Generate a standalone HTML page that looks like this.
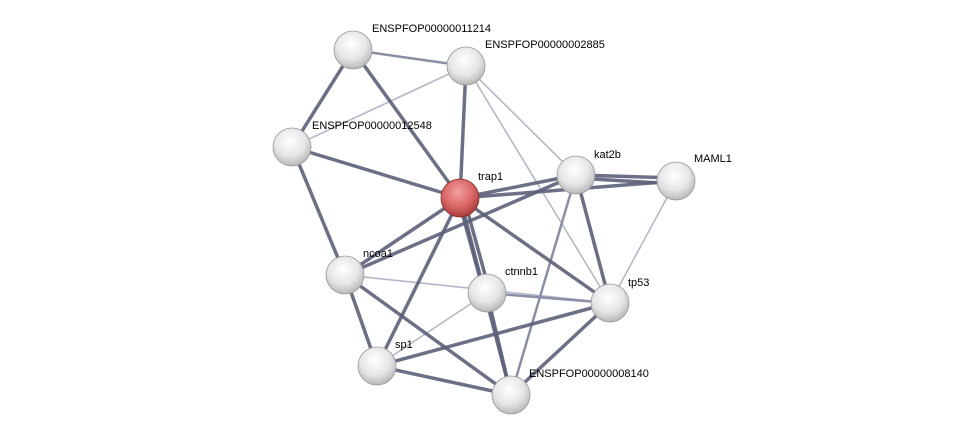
<!DOCTYPE html>
<html><head><meta charset="utf-8"><style>
html,body{margin:0;padding:0;background:#fff;width:976px;height:440px;overflow:hidden}
text{font-family:"Liberation Sans",sans-serif;font-size:11px;fill:#000}
</style></head><body>
<svg width="976" height="440" xmlns="http://www.w3.org/2000/svg">
<defs>
<radialGradient id="g" cx="45%" cy="35%" r="65%">
<stop offset="0" stop-color="#ffffff"/><stop offset="0.6" stop-color="#e6e6e6"/><stop offset="1" stop-color="#b8b8b8"/></radialGradient>
<radialGradient id="r" cx="45%" cy="35%" r="65%">
<stop offset="0" stop-color="#f2a0a0"/><stop offset="0.6" stop-color="#d96666"/><stop offset="1" stop-color="#a83a3a"/></radialGradient>
</defs>
<g stroke-linecap="round">
<!-- light edges -->
<g stroke="#b4b7c9" stroke-width="1.6">
<line x1="466" y1="66" x2="292" y2="147"/>
<line x1="466" y1="66" x2="610" y2="303"/>
<line x1="466" y1="66" x2="576" y2="175"/>
<line x1="676" y1="181" x2="610" y2="303"/>
<line x1="345" y1="275" x2="610" y2="303"/>
<line x1="487" y1="293" x2="377" y2="366"/>
</g>
<g stroke="#8a8ea6" stroke-width="2.5">
<line x1="353" y1="50" x2="466" y2="66"/>
<line x1="487" y1="293" x2="610" y2="303"/>
<line x1="576" y1="175" x2="511" y2="395"/>
</g>
<g stroke="#5c6179" stroke-width="3.5" stroke-opacity="0.9">
<line x1="353" y1="50" x2="292" y2="147"/>
<line x1="353" y1="50" x2="460" y2="198"/>
<line x1="466" y1="66" x2="460" y2="198"/>
<line x1="292" y1="147" x2="460" y2="198"/>
<line x1="292" y1="147" x2="345" y2="275"/>
<line x1="460" y1="198" x2="576" y2="175"/>
<line x1="460" y1="198" x2="676" y2="181"/>
<line x1="460" y1="198" x2="345" y2="275"/>
<line x1="458" y1="198" x2="484" y2="293"/>
<line x1="464" y1="198" x2="490" y2="293"/>
<line x1="460" y1="198" x2="610" y2="303"/>
<line x1="460" y1="198" x2="377" y2="366"/>
<line x1="460" y1="198" x2="511" y2="395"/>
<line x1="576" y1="175" x2="676" y2="178"/>
<line x1="576" y1="178" x2="676" y2="184"/>
<line x1="576" y1="175" x2="345" y2="275"/>
<line x1="576" y1="175" x2="610" y2="303"/>
<line x1="345" y1="275" x2="377" y2="366"/>
<line x1="345" y1="275" x2="511" y2="395"/>
<line x1="487" y1="293" x2="511" y2="395"/>
<line x1="610" y1="303" x2="377" y2="366"/>
<line x1="610" y1="303" x2="511" y2="395"/>
<line x1="377" y1="366" x2="511" y2="395"/>
</g>
</g>
<g stroke="#999" stroke-width="0.8">
<circle cx="353" cy="50" r="19" fill="url(#g)"/>
<circle cx="466" cy="66" r="19" fill="url(#g)"/>
<circle cx="292" cy="147" r="19" fill="url(#g)"/>
<circle cx="460" cy="198" r="19" fill="url(#r)" stroke="#8a2a2a"/>
<circle cx="576" cy="175" r="19" fill="url(#g)"/>
<circle cx="676" cy="181" r="19" fill="url(#g)"/>
<circle cx="345" cy="275" r="19" fill="url(#g)"/>
<circle cx="487" cy="293" r="19" fill="url(#g)"/>
<circle cx="610" cy="303" r="19" fill="url(#g)"/>
<circle cx="377" cy="366" r="19" fill="url(#g)"/>
<circle cx="511" cy="395" r="19" fill="url(#g)"/>
</g>
<text x="372" y="32">ENSPFOP00000011214</text>
<text x="485" y="48">ENSPFOP00000002885</text>
<text x="312" y="129">ENSPFOP00000012548</text>
<text x="478" y="180">trap1</text>
<text x="594" y="158">kat2b</text>
<text x="694" y="162">MAML1</text>
<text x="363" y="257">ncoa1</text>
<text x="505" y="275">ctnnb1</text>
<text x="628" y="286">tp53</text>
<text x="395" y="348">sp1</text>
<text x="529" y="377">ENSPFOP00000008140</text>
</svg>
</body></html>
